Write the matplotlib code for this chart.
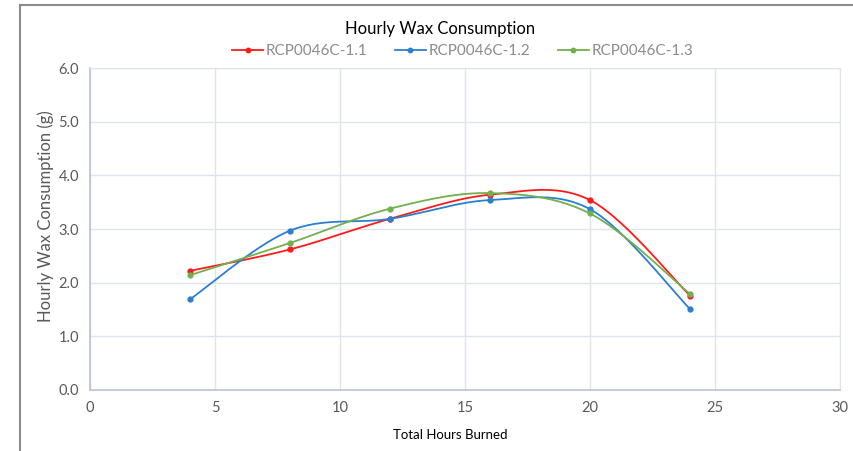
import numpy as np
import matplotlib
matplotlib.use('Agg')
import matplotlib.pyplot as plt
from matplotlib.lines import Line2D

hours = [4, 8, 12, 16, 20, 24]
series_names = ['RCP0046C-1.1', 'RCP0046C-1.2', 'RCP0046C-1.3']
wax_11 = [2.22, 2.62, 3.19, 3.64, 3.54, 1.76]
wax_12 = [1.69, 2.97, 3.19, 3.54, 3.37, 1.51]
wax_13 = [2.14, 2.74, 3.38, 3.67, 3.29, 1.79]
colors = ['#ff1a1a', '#2a7fd0', '#72b04e']

plt.rcParams['font.family'] = ['Lato', 'DejaVu Sans']


def smooth(xs, ys, n=30):
    # excel-style smoothed line (cardinal spline drawn as bezier pieces)
    p = np.column_stack([xs, ys]).astype(float)
    out = [p[0]]
    for i in range(len(p) - 1):
        p0 = p[i - 1] if i > 0 else p[i]
        p3 = p[i + 2] if i + 2 < len(p) else p[i + 1]
        c1 = p[i] + (p[i + 1] - p0) / 6.0
        c2 = p[i + 1] - (p3 - p[i]) / 6.0
        t = np.linspace(0, 1, n)[1:, None]
        seg = ((1 - t) ** 3 * p[i] + 3 * (1 - t) ** 2 * t * c1
               + 3 * (1 - t) * t ** 2 * c2 + t ** 3 * p[i + 1])
        out.extend(seg)
    out = np.array(out)
    return out[:, 0], out[:, 1]


fig = plt.figure(figsize=(8.54, 4.51), dpi=100)
ax = fig.add_axes([0.1054, 0.1353, 0.8782, 0.7137])

for vals, col in zip([wax_11, wax_12, wax_13], colors):
    sx, sy = smooth(hours, vals)
    ax.plot(sx, sy, color=col, lw=1.3, zorder=3)
    ax.plot(hours, vals, 'o', color=col, ms=3.5, zorder=4)

ax.set_xlim(0, 30)
ax.set_ylim(0, 6)
ax.set_xticks(range(0, 31, 5))
ax.set_yticks(np.arange(0, 6.1, 1.0))
ax.set_yticklabels(['%.1f' % v for v in np.arange(0, 6.1, 1.0)])
ax.grid(True, color='#dfe3ec', lw=1.0)
ax.set_axisbelow(True)
for side in ['top', 'right']:
    ax.spines[side].set_color('#dfe3ec')
for side in ['left', 'bottom']:
    ax.spines[side].set_color('#b8c3d6')
    ax.spines[side].set_linewidth(1.2)
ax.tick_params(length=0, colors='#595959', labelsize=10.5, pad=8)

ax.set_xlabel('Total Hours Burned', fontsize=9.5, color='black')
ax.xaxis.set_label_coords(0.48, -0.12)
ax.set_ylabel('Hourly Wax Consumption (g)', fontsize=12, color='#595959')
ax.yaxis.set_label_coords(-0.048, 0.54)

fig.text(0.515, 0.935, 'Hourly Wax Consumption', ha='center', va='center',
         fontsize=12, color='black')

handles = [Line2D([0], [0], color=c, lw=1.3, marker='o', ms=3.2) for c in colors]
fig.legend(handles, series_names, loc='center', bbox_to_anchor=(0.542, 0.886),
           ncol=3, frameon=False, labelcolor='#8c8c8c',
           prop={'size': 11},
           handlelength=2.0, columnspacing=1.8, handletextpad=0.2)

# outer frame of the chart area (left and top edges visible)
fig.add_artist(Line2D([20 / 854, 20 / 854], [0, 1 - 5 / 451], color='#8c8c8c',
                      lw=1.5, transform=fig.transFigure))
fig.add_artist(Line2D([20 / 854, 1], [1 - 5 / 451, 1 - 5 / 451], color='#8c8c8c',
                      lw=1.5, transform=fig.transFigure))

fig.savefig('out.png', dpi=100)
